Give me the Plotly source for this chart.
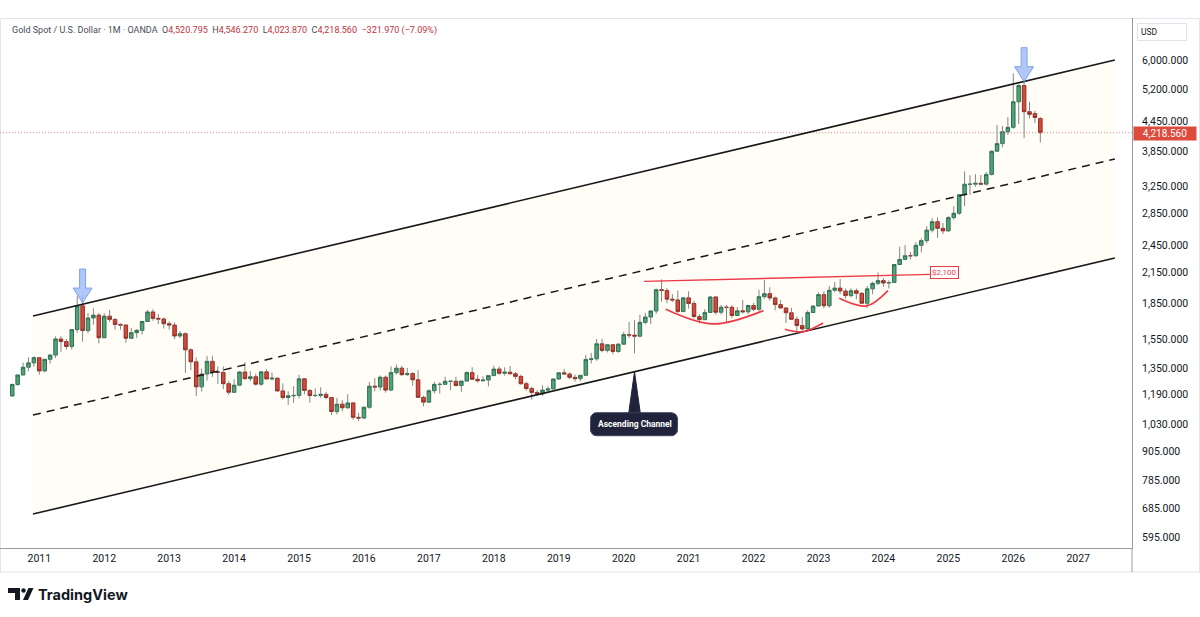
import math
import calendar
import pandas as pd
import plotly.graph_objects as go

# ---------------- DATA ----------------
months = [p.strftime("%Y-%m") for p in pd.period_range("2010-08", "2026-06", freq="M")]

open_ = [
    1181, 1248, 1307, 1357, 1386,                                            # 2010 Aug-Dec
    1421, 1333, 1410, 1439, 1556, 1536, 1500, 1628, 1826, 1620, 1722, 1746,  # 2011
    1565, 1737, 1710, 1669, 1664, 1561, 1604, 1622, 1693, 1773, 1719, 1713,  # 2012
    1675, 1664, 1578, 1596, 1476, 1393, 1234, 1313, 1396, 1327, 1323, 1253,  # 2013
    1202, 1244, 1326, 1284, 1296, 1250, 1327, 1282, 1287, 1210, 1172, 1182,  # 2014
    1184, 1283, 1213, 1183, 1184, 1190, 1172, 1095, 1135, 1115, 1142, 1065,  # 2015
    1061, 1118, 1238, 1233, 1293, 1215, 1322, 1351, 1309, 1316, 1277, 1173,  # 2016
    1146, 1211, 1249, 1249, 1268, 1268, 1242, 1269, 1322, 1280, 1271, 1275,  # 2017
    1303, 1345, 1318, 1325, 1315, 1298, 1253, 1224, 1201, 1192, 1215, 1222,  # 2018
    1282, 1321, 1313, 1292, 1284, 1305, 1409, 1413, 1520, 1472, 1513, 1464,  # 2019
    1517, 1589, 1585, 1577, 1686, 1730, 1781, 1975, 1967, 1886, 1879, 1776,  # 2020
    1898, 1847, 1734, 1708, 1769, 1906, 1770, 1814, 1813, 1743, 1783, 1774,  # 2021
    1829, 1796, 1909, 1937, 1897, 1837, 1807, 1766, 1711, 1660, 1633, 1768,  # 2022
    1824, 1928, 1827, 1969, 1990, 1962, 1919, 1965, 1940, 1849, 1983, 2036,  # 2023
    2063, 2039, 2044, 2230, 2286, 2327, 2326, 2447, 2503, 2634, 2744, 2657,  # 2024
    2624, 2798, 2858, 3124, 3289, 3289, 3303, 3290, 3448, 3858, 4003, 4240,  # 2025
    4330, 4900, 5300, 4671, 4630, 4520.795,                                  # 2026 Jan-Jun
]
high = [
    1254, 1308, 1388, 1424, 1431,
    1424, 1411, 1447, 1575, 1577, 1556, 1632, 1913, 1920, 1764, 1804, 1764,
    1763, 1791, 1719, 1677, 1669, 1640, 1632, 1695, 1790, 1796, 1755, 1727,
    1694, 1686, 1617, 1606, 1487, 1423, 1348, 1434, 1434, 1362, 1362, 1267,
    1280, 1332, 1392, 1331, 1315, 1326, 1345, 1322, 1290, 1255, 1208, 1238,
    1308, 1284, 1220, 1224, 1232, 1205, 1175, 1170, 1157, 1191, 1142, 1088,
    1123, 1263, 1287, 1304, 1303, 1362, 1375, 1367, 1353, 1325, 1338, 1182,
    1220, 1264, 1261, 1296, 1270, 1296, 1270, 1331, 1357, 1306, 1299, 1307,
    1366, 1361, 1356, 1365, 1326, 1309, 1265, 1235, 1214, 1243, 1237, 1284,
    1326, 1347, 1324, 1310, 1306, 1439, 1453, 1555, 1557, 1517, 1516, 1525,
    1611, 1689, 1704, 1748, 1765, 1786, 1984, 2075, 1992, 1933, 1966, 1906,
    1959, 1872, 1755, 1798, 1913, 1916, 1833, 1833, 1834, 1814, 1877, 1831,
    1853, 1974, 2070, 1998, 1910, 1879, 1814, 1807, 1735, 1730, 1786, 1833,
    1949, 1959, 2010, 2049, 2079, 1985, 1987, 1987, 1953, 2009, 2052, 2146,
    2088, 2065, 2236, 2431, 2450, 2369, 2484, 2531, 2685, 2790, 2801, 2726,
    2817, 2956, 3128, 3500, 3435, 3452, 3439, 3489, 3871, 4381, 4360, 4550,
    5620, 5330, 5450, 4900, 4690, 4546.270,
]
low = [
    1175, 1241, 1306, 1331, 1360,
    1309, 1324, 1381, 1418, 1462, 1478, 1478, 1603, 1535, 1600, 1667, 1523,
    1563, 1687, 1627, 1627, 1527, 1555, 1564, 1590, 1690, 1699, 1672, 1636,
    1627, 1555, 1562, 1321, 1338, 1180, 1207, 1272, 1295, 1251, 1221, 1187,
    1202, 1238, 1277, 1268, 1241, 1240, 1281, 1273, 1206, 1161, 1131, 1142,
    1167, 1191, 1142, 1175, 1170, 1162, 1077, 1080, 1097, 1111, 1052, 1046,
    1061, 1110, 1208, 1212, 1200, 1208, 1310, 1301, 1302, 1241, 1171, 1123,
    1146, 1195, 1195, 1245, 1214, 1236, 1205, 1267, 1277, 1260, 1265, 1237,
    1302, 1307, 1303, 1310, 1282, 1246, 1211, 1160, 1180, 1182, 1196, 1221,
    1276, 1311, 1281, 1266, 1267, 1301, 1382, 1400, 1459, 1458, 1445, 1455,
    1517, 1563, 1451, 1568, 1670, 1671, 1757, 1863, 1849, 1860, 1765, 1775,
    1802, 1717, 1677, 1706, 1766, 1750, 1751, 1688, 1721, 1740, 1759, 1753,
    1780, 1781, 1890, 1872, 1787, 1805, 1681, 1709, 1615, 1617, 1616, 1765,
    1823, 1804, 1810, 1949, 1932, 1893, 1903, 1885, 1846, 1810, 1931, 2017,
    2002, 1985, 2039, 2229, 2277, 2287, 2320, 2364, 2471, 2604, 2537, 2583,
    2614, 2772, 2833, 2957, 3121, 3248, 3268, 3268, 3430, 3850, 3930, 4180,
    4300, 4400, 4108, 4520, 4420, 4023.870,
]
close = [
    1248, 1307, 1357, 1386, 1421,
    1333, 1410, 1439, 1556, 1536, 1500, 1628, 1826, 1620, 1722, 1746, 1565,
    1737, 1710, 1669, 1664, 1561, 1604, 1622, 1693, 1773, 1719, 1713, 1675,
    1664, 1578, 1596, 1476, 1393, 1234, 1313, 1396, 1327, 1323, 1253, 1202,
    1244, 1326, 1284, 1296, 1250, 1327, 1282, 1287, 1210, 1172, 1182, 1184,
    1283, 1213, 1183, 1184, 1190, 1172, 1095, 1135, 1115, 1142, 1065, 1061,
    1118, 1238, 1233, 1293, 1215, 1322, 1351, 1309, 1316, 1277, 1173, 1146,
    1211, 1249, 1249, 1268, 1268, 1242, 1269, 1322, 1280, 1271, 1275, 1303,
    1345, 1318, 1325, 1315, 1298, 1253, 1224, 1201, 1192, 1215, 1222, 1282,
    1321, 1313, 1292, 1284, 1305, 1409, 1413, 1520, 1472, 1513, 1464, 1517,
    1589, 1585, 1577, 1686, 1730, 1781, 1975, 1967, 1886, 1879, 1776, 1898,
    1847, 1734, 1708, 1769, 1906, 1770, 1814, 1813, 1743, 1783, 1774, 1829,
    1796, 1909, 1937, 1897, 1837, 1807, 1766, 1711, 1660, 1633, 1768, 1824,
    1928, 1827, 1969, 1990, 1962, 1919, 1965, 1940, 1849, 1983, 2036, 2063,
    2039, 2044, 2230, 2286, 2327, 2326, 2447, 2503, 2634, 2744, 2657, 2624,
    2798, 2858, 3124, 3289, 3289, 3303, 3290, 3448, 3858, 4003, 4240, 4330,
    4900, 5300, 4671, 4610, 4540.530, 4218.560,
]

year_ticks = list(range(2011, 2028))
price_ticks = [595, 685, 785, 905, 1030, 1190, 1350, 1550, 1850, 2150,
               2450, 2850, 3250, 3850, 4450, 5200, 6000]

# drawings (anchor points)
chan_dates = ["2010-11-26", "2027-07-25"]
chan_upper = [1739, 6000]
chan_lower = [667, 2301]

res_dates = ["2020-04-24", "2024-09-19"]
res_prices = [2055, 2126]
res_label = "$2,100"

arc_dates = [
    ["2020-08-25", "2021-05-17", "2022-02-24"],
    ["2022-06-25", "2022-10-04", "2023-01-27"],
    ["2023-04-26", "2023-09-28", "2024-01-27"],
]
arc_prices = [
    [1796, 1673, 1784],
    [1631, 1611, 1681],
    [1894, 1825, 1965],
]

arrow_months = ["2011-09", "2026-03"]
arrow_tips = [1851, 5400]

callout_month = "2020-03"
callout_text = "Ascending Channel"

# ---------------- GEOMETRY ----------------
W, H = 1200, 617
ML, MR, MT, MB = 0, 68, 18, 69
PW, PH = W - ML - MR, H - MT - MB
X_RANGE = [-7.263, 201.94]
Y_RANGE = [2.7528, 3.8662]
PX_IDX = PW / (X_RANGE[1] - X_RANGE[0])
PX_DEC = PH / (Y_RANGE[1] - Y_RANGE[0])

BASE_YEAR = year_ticks[0]


def midx(m):
    y, mo = int(m[:4]), int(m[5:7])
    return (y - BASE_YEAR) * 12 + (mo - 1)


def didx(s):
    y, mo, d = int(s[:4]), int(s[5:7]), int(s[8:10])
    return (y - BASE_YEAR) * 12 + (mo - 1) + (d - 1) / calendar.monthrange(y, mo)[1]


def offset(ix, price, dx, dy):
    return ix + dx / PX_IDX, 10 ** (math.log10(price) - dy / PX_DEC)


def pxx(px):
    return (px - ML) / PW


def pxy(py):
    return (H - MB - py) / PH


cx = [didx(d) for d in chan_dates]
chan_mid = [math.sqrt(u * l) for u, l in zip(chan_upper, chan_lower)]


def chan_at(ix, pts):
    t = (ix - cx[0]) / (cx[1] - cx[0])
    return 10 ** (math.log10(pts[0]) + t * (math.log10(pts[1]) - math.log10(pts[0])))


x = [midx(m) for m in months]
body_hi = [max(o, c) for o, c in zip(open_, close)]
body_lo = [min(o, c) for o, c in zip(open_, close)]

fig = go.Figure()

# channel fill (bottom subplot)
fig.add_trace(go.Scatter(
    x=[cx[0], cx[1], cx[1], cx[0], cx[0]],
    y=[chan_upper[0], chan_upper[1], chan_lower[1], chan_lower[0], chan_upper[0]],
    fill="toself", fillcolor="#fffdf6", line=dict(width=0), mode="lines",
    hoverinfo="skip", yaxis="y"))

# last price dotted line
fig.add_trace(go.Scatter(x=X_RANGE, y=[close[-1], close[-1]], mode="lines",
                         line=dict(color="#ee8a80", width=1, dash="1px,2px"),
                         hoverinfo="skip", yaxis="y2"))

# wicks
wx, wy = [], []
for xi, h, l, bh, bl in zip(x, high, low, body_hi, body_lo):
    wx += [xi, xi, None, xi, xi, None]
    wy += [h, bh, None, bl, l, None]

fig.add_trace(go.Candlestick(
    x=x, open=open_, high=body_hi, low=body_lo, close=close,
    increasing=dict(line=dict(color="#2c7150", width=1), fillcolor="#53a179"),
    decreasing=dict(line=dict(color="#952b23", width=1), fillcolor="#cf4a3f"),
    whiskerwidth=0, hoverinfo="skip", yaxis="y2"))
fig.add_trace(go.Scatter(x=wx, y=wy, mode="lines", line=dict(color="#858585", width=1),
                         hoverinfo="skip", yaxis="y2", connectgaps=False))

# channel lines
fig.add_trace(go.Scatter(x=cx, y=chan_upper, mode="lines", line=dict(color="#181818", width=1.6),
                         hoverinfo="skip", yaxis="y2"))
fig.add_trace(go.Scatter(x=cx, y=chan_lower, mode="lines", line=dict(color="#181818", width=1.6),
                         hoverinfo="skip", yaxis="y2"))
fig.add_trace(go.Scatter(x=cx, y=chan_mid, mode="lines",
                         line=dict(color="#181818", width=1.5, dash="8px,6px"),
                         hoverinfo="skip", yaxis="y2"))

# resistance line
RED = "#ec3b48"
fig.add_trace(go.Scatter(x=[didx(d) for d in res_dates], y=res_prices, mode="lines",
                         line=dict(color=RED, width=1.3), hoverinfo="skip", yaxis="y2"))
# arcs
for ds, ps in zip(arc_dates, arc_prices):
    fig.add_trace(go.Scatter(x=[didx(d) for d in ds], y=ps, mode="lines",
                             line=dict(color=RED, width=1.7, shape="spline"),
                             hoverinfo="skip", yaxis="y2"))

# arrows
arrow_shape = [(0, 0), (-9.5, -15), (-3, -15), (-3, -34), (3, -34), (3, -15), (9.5, -15), (0, 0)]
for am, ap in zip(arrow_months, arrow_tips):
    pts = [offset(midx(am), ap, dx, dy) for dx, dy in arrow_shape]
    fig.add_trace(go.Scatter(x=[p[0] for p in pts], y=[p[1] for p in pts], mode="lines",
                             fill="toself", fillcolor="rgba(150,182,246,0.75)",
                             line=dict(color="rgba(120,155,238,0.9)", width=1),
                             hoverinfo="skip", yaxis="y2"))

# callout
c_ix = midx(callout_month)
c_tip = chan_at(c_ix, chan_lower)
ptr = [offset(c_ix, c_tip, dx, dy) for dx, dy in [(0, 0), (-6, 43), (6, 43), (0, 0)]]
fig.add_trace(go.Scatter(x=[p[0] for p in ptr], y=[p[1] for p in ptr], mode="lines",
                         fill="toself", fillcolor="#20233a", line=dict(color="#20233a", width=1),
                         hoverinfo="skip", yaxis="y2"))
bx0, bx1, by0, by1, r = -44, 43, 41, 64, 6
box = []
for (ccx, ccy, a0) in [(bx1 - r, by0 + r, -90), (bx1 - r, by1 - r, 0),
                       (bx0 + r, by1 - r, 90), (bx0 + r, by0 + r, 180)]:
    for k in range(7):
        a = math.radians(a0 + k * 15)
        box.append((ccx + r * math.cos(a), ccy + r * math.sin(a)))
box.append(box[0])
bpts = [offset(c_ix, c_tip, dx, dy) for dx, dy in box]
fig.add_trace(go.Scatter(x=[p[0] for p in bpts], y=[p[1] for p in bpts], mode="lines",
                         fill="toself", fillcolor="#20233a", line=dict(color="#3c4160", width=1),
                         hoverinfo="skip", yaxis="y2"))
t_ix, t_price = offset(c_ix, c_tip, 0, 52.5)

FONT = "Roboto, 'Noto Sans', sans-serif"
TXT = "#131722"

annotations = [
    dict(x=t_ix, y=math.log10(t_price), xref="x", yref="y", text="<b>%s</b>" % callout_text,
         showarrow=False, font=dict(color="white", size=8.5, family=FONT)),
    dict(x=didx(res_dates[1]), y=math.log10(res_prices[1]), xref="x", yref="y", text=res_label,
         showarrow=False, xanchor="left", yanchor="middle", yshift=2,
         font=dict(color=RED, size=8, family=FONT), bgcolor="white",
         bordercolor=RED, borderwidth=1, borderpad=1),
    dict(x=pxx(1133), xref="paper", y=math.log10(close[-1]), yref="y",
         text=f"{close[-1]:,.3f}", showarrow=False, xanchor="left", yanchor="middle",
         yshift=-1,
         font=dict(color="white", size=10, family=FONT), bgcolor="#dc4b3c",
         borderpad=1, width=60),
    dict(x=pxx(1137), xref="paper", y=pxy(32), yref="paper", text="USD", showarrow=False,
         xanchor="left", yanchor="middle", align="left",
         font=dict(color=TXT, size=8.5, family=FONT), bordercolor="#e0e3eb", borderwidth=1,
         borderpad=3, width=42),
]

chg = close[-1] - close[-2]
pct = chg / close[-2] * 100
VC = "#c0333b"


def fmt(v):
    return f"{v:,.3f}".replace("-", "−")


header = ("Gold Spot / U.S. Dollar · 1M · OANDA&nbsp;&nbsp;"
          f"O<span style='color:{VC}'>{fmt(open_[-1])}</span>&nbsp;&nbsp;"
          f"H<span style='color:{VC}'>{fmt(high[-1])}</span>&nbsp;&nbsp;"
          f"L<span style='color:{VC}'>{fmt(low[-1])}</span>&nbsp;&nbsp;"
          f"C<span style='color:{VC}'>{fmt(close[-1])}</span>&nbsp;&nbsp;"
          f"<span style='color:{VC}'>{fmt(chg)} ({pct:.2f}%)</span>".replace("(-", "(−"))
annotations.append(dict(x=pxx(10), xref="paper", y=pxy(31), yref="paper", text=header,
                        showarrow=False, xanchor="left", yanchor="middle",
                        font=dict(color="#4a4d57", size=9, family=FONT)))
annotations.append(dict(x=pxx(36), xref="paper", y=pxy(594), yref="paper",
                        text="<b>TradingView</b>", showarrow=False, xanchor="left",
                        yanchor="middle", font=dict(color=TXT, size=14.5, family="Inter, Roboto")))

shapes = [
    dict(type="rect", xref="paper", yref="paper", x0=pxx(0.5), x1=pxx(1199.5),
         y0=pxy(572), y1=pxy(18.5), line=dict(color="#e3e5ea", width=1), layer="below"),
    dict(type="line", xref="paper", yref="paper", x0=1, x1=1, y0=pxy(548), y1=pxy(572),
         line=dict(color="#9a9ca3", width=1)),
    # TradingView logo
    dict(type="rect", xref="paper", yref="paper", x0=pxx(8), x1=pxx(20), y0=pxy(593), y1=pxy(588),
         fillcolor=TXT, line=dict(width=0)),
    dict(type="rect", xref="paper", yref="paper", x0=pxx(15), x1=pxx(20), y0=pxy(600), y1=pxy(588),
         fillcolor=TXT, line=dict(width=0)),
    dict(type="circle", xref="paper", yref="paper", x0=pxx(21.3), x1=pxx(25.7), y0=pxy(592.7),
         y1=pxy(588.3), fillcolor=TXT, line=dict(width=0)),
    dict(type="path", xref="paper", yref="paper",
         path=f"M {pxx(23)},{pxy(600)} L {pxx(28)},{pxy(600)} L {pxx(33.5)},{pxy(588)} "
              f"L {pxx(28.5)},{pxy(588)} Z",
         fillcolor=TXT, line=dict(width=0)),
]

fig.update_layout(
    width=W, height=H, margin=dict(l=ML, r=MR, t=MT, b=MB),
    paper_bgcolor="white", plot_bgcolor="white", showlegend=False, hovermode=False,
    boxgap=0.35, boxgroupgap=0,
    xaxis=dict(range=X_RANGE, tickvals=[midx(f"{yy}-01") for yy in year_ticks],
               ticktext=[str(yy) for yy in year_ticks], showgrid=False, zeroline=False,
               showline=True, linecolor="#9a9ca3", linewidth=1, ticks="",
               tickfont=dict(size=10.5, color=TXT, family=FONT),
               rangeslider=dict(visible=False), fixedrange=True),
    yaxis=dict(type="log", range=Y_RANGE, side="right", tickvals=price_ticks,
               ticktext=[f"{v:,.3f}" for v in price_ticks], showgrid=False, zeroline=False,
               showline=True, linecolor="#9a9ca3", linewidth=1, ticks="",
               ticklabelstandoff=7,
               tickfont=dict(size=10.5, color=TXT, family=FONT), fixedrange=True),
    yaxis2=dict(type="log", range=Y_RANGE, overlaying="y", side="right", visible=False,
                fixedrange=True),
    annotations=annotations, shapes=shapes,
)

fig.write_html("out.html")
